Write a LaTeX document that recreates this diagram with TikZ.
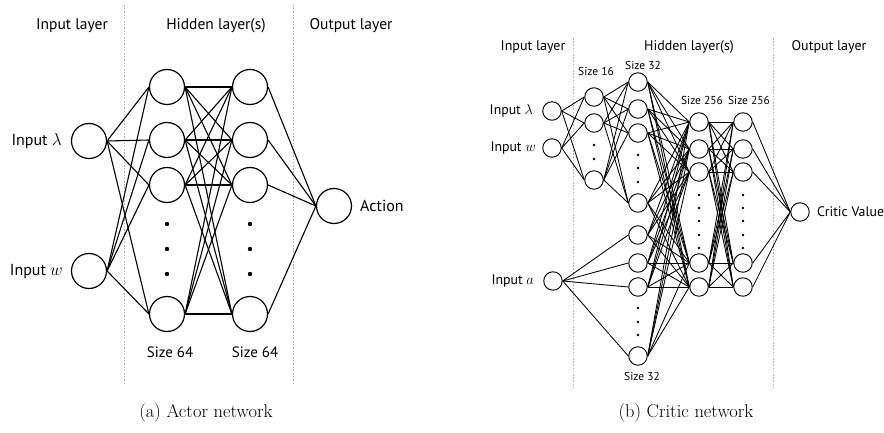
\documentclass[tikz,border=0pt]{standalone}
\usepackage{fontspec}
\setsansfont{PT Sans}
\begin{document}
\begin{tikzpicture}[x=1pt,y=-1pt,
  neuron/.style={circle,draw,line width=1.2pt,minimum size=35pt,inner sep=0pt},
  cneuron/.style={circle,draw,line width=0.95pt,minimum size=18.5pt,inner sep=0pt},
  link/.style={line width=1.1pt},
  clink/.style={line width=0.85pt},
  sepline/.style={draw=black!30,dash pattern=on 1.6pt off 1.6pt,line width=0.9pt},
  hdr/.style={font=\sffamily\fontsize{15.5}{18}\selectfont},
  chdr/.style={font=\sffamily\fontsize{14}{16}\selectfont},
  lbl/.style={font=\sffamily\fontsize{16}{19}\selectfont,inner sep=0pt},
  clbl/.style={font=\sffamily\fontsize{13.8}{16}\selectfont,inner sep=0pt},
  sizelbl/.style={font=\sffamily\fontsize{15}{18}\selectfont,inner sep=0pt},
  csizelbl/.style={font=\sffamily\fontsize{11.5}{14}\selectfont,inner sep=0pt},
  bigdot/.style={circle,fill,inner sep=0pt,minimum size=4.4pt},
  smalldot/.style={circle,fill,inner sep=0pt,minimum size=2.8pt},
  capt/.style={font=\rmfamily\fontsize{18.5}{22}\selectfont}
]
\useasboundingbox (0,0) rectangle (884,433);

% ---------------- Actor network ----------------
\draw[sepline] (124,5) -- (124,385);
\draw[sepline] (293,5) -- (293,385);
\node[hdr] (aHin)  at (72,26)  {Input layer};
\node[hdr] (aHhid) at (216,26) {Hidden layer(s)};
\node[hdr] (aHout) at (351,26) {Output layer};

\node[neuron] (x1) at (89,141) {};
\node[neuron] (x2) at (89,271) {};
\foreach \i/\y in {1/87,2/140,3/185,4/314} {
  \node[neuron] (h\i) at (167,\y) {};
  \node[neuron] (g\i) at (250,\y) {};
}
\node[neuron] (act) at (334,206) {};

\foreach \k/\y in {1/224,2/249,3/274} {
  \node[bigdot] (hd\k) at (167,\y) {};
  \node[bigdot] (gd\k) at (250,\y) {};
}

\foreach \i in {1,2} \foreach \j in {1,...,4} \draw[link] (x\i.east) -- (h\j.west);
\foreach \i in {1,...,4} \foreach \j in {1,...,4} \draw[link] (h\i.east) -- (g\j.west);
\foreach \i in {1,...,4} \draw[link] (g\i.east) -- (act.west);

\node[lbl,anchor=east] (xl1) at (62,141) {Input $\lambda$};
\node[lbl,anchor=east] (xl2) at (63,271) {Input $w$};
\node[lbl,anchor=west] (actl) at (360,206) {Action};
\node[sizelbl] (sz1) at (170,352) {Size 64};
\node[sizelbl] (sz2) at (255,352) {Size 64};

\node[capt] (capa) at (206,413) {(a) Actor network};

% ---------------- Critic network ----------------
\draw[sepline] (573,38) -- (573,387);
\draw[sepline] (773,38) -- (773,387);
\node[chdr] (cHin)  at (533,47) {Input layer};
\node[chdr] (cHhid) at (689,47) {Hidden layer(s)};
\node[chdr] (cHout) at (829,47) {Output layer};

\node[cneuron] (iL) at (552,111) {};
\node[cneuron] (iW) at (552,148) {};
\node[cneuron] (iA) at (553,281) {};

\foreach \i/\y in {1/97,2/123,3/180} \node[cneuron] (s\i) at (594,\y) {};
\foreach \k/\y in {1/145,2/159} \node[smalldot] (sd\k) at (594,\y) {};

\foreach \i/\y in {1/82,2/109,3/133,4/203} \node[cneuron] (p\i) at (638,\y) {};
\foreach \k/\y in {1/155,2/168,3/182} \node[smalldot] (pd\k) at (638,\y) {};

\foreach \i/\y in {1/235,2/263,3/287,4/356} \node[cneuron] (q\i) at (638,\y) {};
\foreach \k/\y in {1/308,2/322,3/335} \node[smalldot] (qd\k) at (638,\y) {};

\foreach \i/\y in {1/122,2/149,3/172,4/263,5/287} {
  \node[cneuron] (u\i) at (699,\y) {};
  \node[cneuron] (v\i) at (743,\y) {};
}
\foreach \k/\y in {1/195,2/208,3/221,4/235,5/248} {
  \node[smalldot] (ud\k) at (699,\y) {};
  \node[smalldot] (vd\k) at (743,\y) {};
}

\node[cneuron] (cv) at (800,212) {};

\foreach \i in {L,W} \foreach \j in {1,2,3} \draw[clink] (i\i.east) -- (s\j.west);
\foreach \i in {1,2,3} \foreach \j in {1,...,4} \draw[clink] (s\i.east) -- (p\j.west);
\foreach \j in {1,...,4} \draw[clink] (iA.east) -- (q\j.west);
\foreach \i in {1,...,4} \foreach \j in {1,...,5} {
  \draw[clink] (p\i.east) -- (u\j.west);
  \draw[clink] (q\i.east) -- (u\j.west);
}
\foreach \i in {1,...,5} \foreach \j in {1,...,5} \draw[clink] (u\i.east) -- (v\j.west);
\foreach \i in {1,...,5} \draw[clink] (v\i.east) -- (cv.west);

\node[clbl,anchor=east] (il1) at (533,111) {Input $\lambda$};
\node[clbl,anchor=east] (il2) at (536,148) {Input $w$};
\node[clbl,anchor=east] (il3) at (534,281) {Input $a$};
\node[clbl,anchor=west] (cvl) at (817,212) {Critic Value};

\node[csizelbl] (cs1) at (596,71)  {Size 16};
\node[csizelbl] (cs2) at (643,65)  {Size 32};
\node[csizelbl] (cs3) at (702,100) {Size 256};
\node[csizelbl] (cs4) at (749,100) {Size 256};
\node[csizelbl] (cs5) at (642,376) {Size 32};

\node[capt] (capb) at (686,413) {(b) Critic network};
\end{tikzpicture}
\end{document}
